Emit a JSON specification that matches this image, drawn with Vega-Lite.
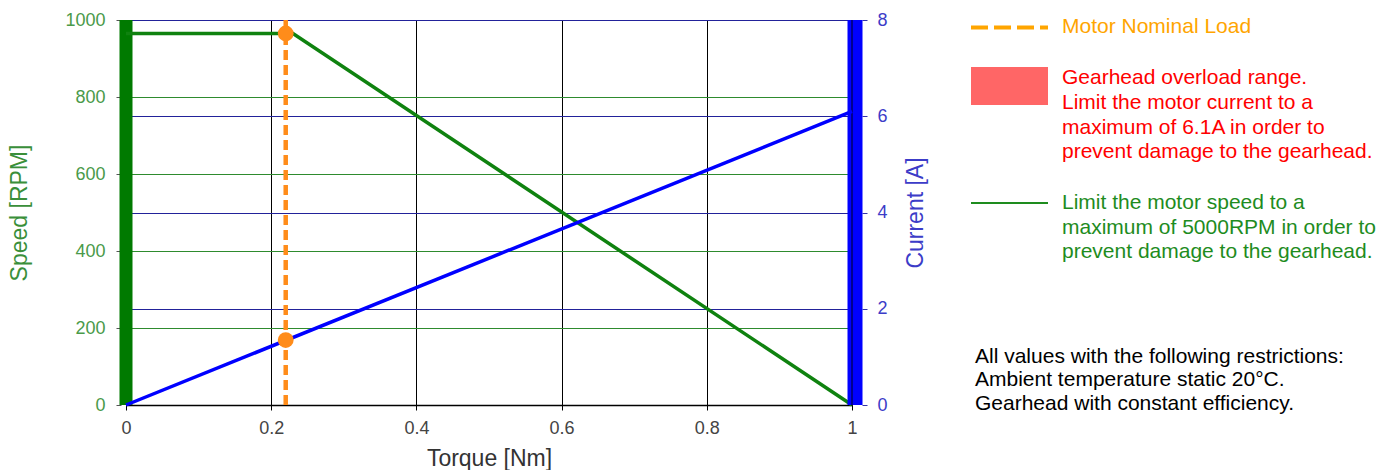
{
  "$schema": "https://vega.github.io/schema/vega-lite/v6.json",
  "padding": {"left": 8, "top": 11, "right": 0, "bottom": 0},
  "config": {"view": {"stroke": null}, "font": "Liberation Sans", "concat": {"spacing": 20}},
  "bounds": "flush",
  "datasets": {
    "speed": [
      {"torque": 0, "speed": 965},
      {"torque": 0.23, "speed": 965},
      {"torque": 1, "speed": 0}
    ],
    "current": [
      {"torque": 0, "current": 0},
      {"torque": 1, "current": 6.1}
    ],
    "nominal": [
      {"torque": 0.22, "speed": 965, "current": 1.35}
    ],
    "legend": [
      {"line": 0.3, "text": "Motor Nominal Load", "kind": "nominal"},
      {"line": 2.35, "text": "Gearhead overload range.", "kind": "current"},
      {"line": 3.39, "text": "Limit the motor current to a", "kind": "current"},
      {"line": 4.38, "text": "maximum of 6.1A in order to", "kind": "current"},
      {"line": 5.35, "text": "prevent damage to the gearhead.", "kind": "current"},
      {"line": 7.45, "text": "Limit the motor speed to a", "kind": "speed"},
      {"line": 8.47, "text": "maximum of 5000RPM in order to", "kind": "speed"},
      {"line": 9.44, "text": "prevent damage to the gearhead.", "kind": "speed"},
      {"line": 13.69, "text": "All values with the following restrictions:", "kind": "note"},
      {"line": 14.63, "text": "Ambient temperature static 20°C.", "kind": "note"},
      {"line": 15.62, "text": "Gearhead with constant efficiency.", "kind": "note"}
    ]
  },
  "hconcat": [
    {
      "width": 726,
      "height": 385,
      "layer": [
        {
          "layer": [
            {
              "data": {"name": "nominal"},
              "mark": {"type": "rule", "color": "#007A00", "strokeWidth": 13},
              "encoding": {
                "x": {"datum": 0, "type": "quantitative",
                  "scale": {"domain": [0, 1], "nice": false, "zero": false},
                  "axis": {"values": [0, 0.2, 0.4, 0.6, 0.8, 1], "format": "~g", "labelFlush": false,
                    "grid": true, "gridColor": "#000000", "gridOpacity": 1, "gridWidth": 1,
                    "domainColor": "#000000", "domainWidth": 1.5, "tickColor": "#000000", "tickSize": 5,
                    "labelColor": "#444444", "labelFontSize": 18, "labelPadding": 9,
                    "title": "Torque [Nm]", "titleColor": "#333333", "titleFontSize": 23,
                    "titleFontWeight": "normal", "titlePadding": 10}},
                "y": {"datum": 0, "type": "quantitative",
                  "scale": {"domain": [0, 1000], "nice": false, "zero": false},
                  "axis": {"orient": "left", "values": [0, 200, 400, 600, 800, 1000], "format": "d",
                    "grid": true, "gridColor": "#2E8B2E", "gridOpacity": 1, "gridWidth": 1,
                    "domain": false, "offset": 5, "tickSize": 5, "tickColor": "#555555",
                    "labelColor": "#4A9A4A", "labelFontSize": 18, "labelPadding": 11,
                    "minExtent": 54, "maxExtent": 54,
                    "title": "Speed [RPM]", "titleColor": "#3A8F3A", "titleFontSize": 23,
                    "titleFontWeight": "normal", "titlePadding": 36}},
                "y2": {"datum": 1000}
              }
            },
            {
              "data": {"name": "speed"},
              "mark": {"type": "line", "color": "#0F820F", "strokeWidth": 3.5},
              "encoding": {
                "x": {"field": "torque", "type": "quantitative"},
                "y": {"field": "speed", "type": "quantitative"}
              }
            },
            {
              "data": {"name": "nominal"},
              "mark": {"type": "rule", "color": "#FF8C1A", "strokeWidth": 4.5, "strokeDash": [10, 5]},
              "encoding": {
                "x": {"field": "torque", "type": "quantitative"},
                "y": {"datum": 0},
                "y2": {"datum": 1000}
              }
            },
            {
              "data": {"name": "nominal"},
              "mark": {"type": "point", "filled": true, "color": "#FF8C1A", "size": 250, "opacity": 1},
              "encoding": {
                "x": {"field": "torque", "type": "quantitative"},
                "y": {"field": "speed", "type": "quantitative"}
              }
            }
          ]
        },
        {
          "layer": [
            {
              "data": {"name": "nominal"},
              "mark": {"type": "rule", "color": "#0000FF", "strokeWidth": 15, "xOffset": 3},
              "encoding": {
                "x": {"datum": 1, "type": "quantitative"},
                "y": {"datum": 0, "type": "quantitative",
                  "scale": {"domain": [0, 8], "nice": false, "zero": false},
                  "axis": {"orient": "right", "values": [0, 2, 4, 6, 8],
                    "grid": true, "gridColor": "#22229A", "gridOpacity": 1, "gridWidth": 1,
                    "domain": false, "offset": 10, "tickSize": 5, "tickColor": "#3333AA",
                    "labelColor": "#3C3CC8", "labelFontSize": 18, "labelPadding": 10,
                    "minExtent": 25, "maxExtent": 25,
                    "title": "Current [A]", "titleColor": "#3C3CC8", "titleFontSize": 23,
                    "titleFontWeight": "normal", "titlePadding": 17,
                    "titleAngle": 270, "titleBaseline": "top"}},
                "y2": {"datum": 8}
              }
            },
            {
              "data": {"name": "nominal"},
              "mark": {"type": "rule", "color": "#00006A", "strokeWidth": 1.5},
              "encoding": {
                "x": {"datum": 1, "type": "quantitative"},
                "y": {"datum": 0},
                "y2": {"datum": 8}
              }
            },
            {
              "data": {"name": "current"},
              "mark": {"type": "line", "color": "#0000FF", "strokeWidth": 3.5},
              "encoding": {
                "x": {"field": "torque", "type": "quantitative"},
                "y": {"field": "current", "type": "quantitative"}
              }
            },
            {
              "data": {"name": "nominal"},
              "mark": {"type": "point", "filled": true, "color": "#FF8C1A", "size": 250, "opacity": 1},
              "encoding": {
                "x": {"field": "torque", "type": "quantitative"},
                "y": {"field": "current", "type": "quantitative"}
              }
            }
          ]
        }
      ],
      "resolve": {"scale": {"y": "independent"}, "axis": {"y": "independent"}}
    },
    {
      "width": 500,
      "height": 385,
      "layer": [
        {
          "data": {"name": "nominal"},
          "mark": {"type": "rule", "color": "#FFA500", "strokeWidth": 4, "strokeDash": [17, 6]},
          "encoding": {
            "x": {"datum": 0.198, "type": "quantitative", "scale": {"domain": [0, 1], "nice": false, "zero": false}, "axis": null},
            "x2": {"datum": 0.352},
            "y": {"datum": 0.3, "type": "quantitative", "scale": {"domain": [0, 15.65], "reverse": true, "nice": false, "zero": false}, "axis": null}
          }
        },
        {
          "data": {"name": "nominal"},
          "mark": {"type": "rect", "color": "#FF6666"},
          "encoding": {
            "x": {"datum": 0.198, "type": "quantitative"},
            "x2": {"datum": 0.352},
            "y": {"datum": 1.91, "type": "quantitative"},
            "y2": {"datum": 3.46}
          }
        },
        {
          "data": {"name": "nominal"},
          "mark": {"type": "rule", "color": "#1E8C1E", "strokeWidth": 2},
          "encoding": {
            "x": {"datum": 0.198, "type": "quantitative"},
            "x2": {"datum": 0.352},
            "y": {"datum": 7.44, "type": "quantitative"}
          }
        },
        {
          "data": {"name": "legend"},
          "transform": [{"filter": "datum.kind != 'note'"}],
          "mark": {"type": "text", "align": "left", "baseline": "middle", "fontSize": 21},
          "encoding": {
            "x": {"datum": 0.38, "type": "quantitative"},
            "y": {"field": "line", "type": "quantitative"},
            "text": {"field": "text", "type": "nominal"},
            "color": {"field": "kind", "type": "nominal", "legend": null,
              "scale": {"domain": ["nominal", "current", "speed"], "range": ["#FFA500", "#FF0000", "#1E8C1E"]}}
          }
        },
        {
          "data": {"name": "legend"},
          "transform": [{"filter": "datum.kind == 'note'"}],
          "mark": {"type": "text", "align": "left", "baseline": "middle", "fontSize": 21, "color": "#000000"},
          "encoding": {
            "x": {"datum": 0.206, "type": "quantitative"},
            "y": {"field": "line", "type": "quantitative"},
            "text": {"field": "text", "type": "nominal"}
          }
        }
      ]
    }
  ]
}
